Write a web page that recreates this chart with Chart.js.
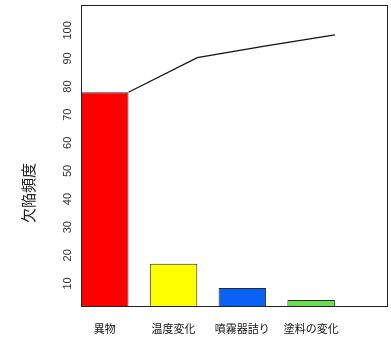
<!DOCTYPE html>
<html>
<head>
<meta charset="utf-8">
<script src="https://cdn.jsdelivr.net/npm/chart.js@4.4.1/dist/chart.umd.min.js"></script>
<style>
  html, body { margin: 0; padding: 0; background: #fff; }
  #wrap { width: 391px; height: 340px; position: relative; }
</style>
</head>
<body>
<div id="wrap"><canvas id="c"></canvas></div>
<script>
// ── DATA ──────────────────────────────────
const categories = ['異物', '温度変化', '噴霧器詰り', '塗料の変化'];
const counts     = [78, 17, 8.4, 4.1];          // 欠陥頻度
const cumLine    = [78, 90.3, 94.5, 98.4];      // line at each bar's right edge
const barColors  = ['#ff0000', '#ffff00', '#0a62f5', '#6ade4e'];
const yTicks     = [10, 20, 30, 40, 50, 60, 70, 80, 90, 100];
const yTitle     = '欠陥頻度';

const BAR_FRAC = 0.69;

// ── PLUGIN: box, rotated y labels, title ──
const frame = {
  id: 'frame',
  afterDraw(chart) {
    const { ctx, chartArea: a, scales } = chart;
    ctx.save();
    ctx.strokeStyle = '#222';
    ctx.lineWidth = 1;
    ctx.strokeRect(Math.round(a.left) + 0.5, Math.round(a.top) + 0.5,
                   Math.round(a.right - a.left) - 1, Math.round(a.bottom - a.top));

    ctx.fillStyle = '#333';
    ctx.font = '11px "Liberation Sans", Arial, sans-serif';
    ctx.textAlign = 'center';
    ctx.textBaseline = 'middle';
    scales.y.ticks.forEach(t => {
      ctx.save();
      ctx.translate(68, scales.y.getPixelForValue(t.value));
      ctx.rotate(-Math.PI / 2);
      ctx.fillText(String(t.value), 0, 0);
      ctx.restore();
    });

    ctx.font = '15px "Noto Sans CJK JP", sans-serif';
    ctx.fillStyle = '#222';
    ctx.translate(28, 193);
    ctx.rotate(-Math.PI / 2);
    ctx.fillText(yTitle, 0, 0);
    ctx.restore();
  }
};

// ── CHART ────────────────────────────────
new Chart(document.getElementById('c'), {
  data: {
    datasets: [
      {
        type: 'line',
        data: cumLine.map((v, i) => ({ x: i + BAR_FRAC / 2, y: v })),
        borderColor: '#111',
        borderWidth: 1.2,
        pointRadius: 0,
        fill: false,
        tension: 0
      },
      {
        type: 'bar',
        data: counts.map((v, i) => ({ x: i, y: v })),
        backgroundColor: barColors,
        borderColor: '#2a2a2a',
        borderWidth: 1,
        borderSkipped: false,
        categoryPercentage: 1,
        barPercentage: BAR_FRAC
      }
    ]
  },
  options: {
    responsive: true, maintainAspectRatio: false,
    animation: false,
    devicePixelRatio: 1,
    layout: { padding: { top: 5, right: 3, left: 0, bottom: 0 } },
    plugins: { legend: { display: false }, tooltip: { enabled: false } },
    scales: {
      x: {
        type: 'linear',
        offset: false,
        min: -BAR_FRAC / 2,
        max: 4.117,
        grid: { display: false, drawTicks: false, offset: false },
        border: { display: false },
        afterBuildTicks: s => { s.ticks = categories.map((_, i) => ({ value: i })); },
        afterFit: s => { s.height = 34; },
        ticks: {
          padding: 16,
          autoSkip: false,
          maxRotation: 0,
          color: '#111',
          font: { size: 11, family: '"Noto Sans CJK JP", sans-serif' },
          callback: v => categories[v] ?? ''
        }
      },
      y: {
        min: 2,
        max: 109,
        grid: { display: false, drawTicks: false },
        border: { display: false },
        afterBuildTicks: s => { s.ticks = yTicks.map(v => ({ value: v })); },
        afterFit: s => { s.width = 81; },
        ticks: { display: false }
      }
    }
  },
  plugins: [frame]
});
</script>
</body>
</html>
